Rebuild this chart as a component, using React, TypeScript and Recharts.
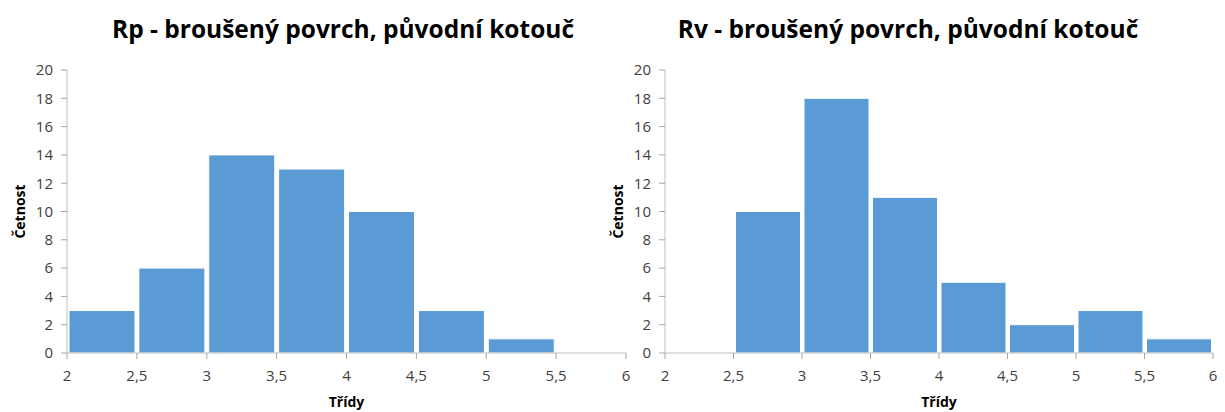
import React from 'react';
import { BarChart, Bar, XAxis, YAxis } from 'recharts';

const bins = ['2-2,5', '2,5-3', '3-3,5', '3,5-4', '4-4,5', '4,5-5', '5-5,5', '5,5-6'];
const rpCounts = [3, 6, 14, 13, 10, 3, 1, 0];
const rvCounts = [0, 10, 18, 11, 5, 2, 3, 1];
const xTicks = ['2', '2,5', '3', '3,5', '4', '4,5', '5', '5,5', '6'];
const yTicks = [0, 2, 4, 6, 8, 10, 12, 14, 16, 18, 20];

const FONT = 'Open Sans, Noto Sans, sans-serif';
const axisColor = '#bfbfbf';
const tickLineColor = '#a6a6a6';
const tickStyle = { fill: '#404040', fontSize: 15, fontFamily: FONT };
const axisTitleStyle = { fill: '#000', fontSize: 14, fontWeight: 700, fontFamily: FONT };

interface HistProps {
  title: string;
  titleCenter: number;
  counts: number[];
  left: number;
  width: number;
  yAxisWidth: number;
  rightMargin: number;
}

// labels sit on the bin edges, not under the bar centres
const EdgeTick = (props: any) => {
  const { x, y, index, bandWidth } = props;
  const edges = [{ px: x - bandWidth / 2, label: xTicks[index] }];
  if (index === bins.length - 1) edges.push({ px: x + bandWidth / 2, label: xTicks[index + 1] });
  return (
    <g>
      {edges.map((e) => (
        <g key={e.label}>
          <line x1={e.px} y1={y} x2={e.px} y2={y + 6} stroke={tickLineColor} />
          <text x={e.px} y={y + 17} dy="0.71em" textAnchor="middle" {...tickStyle}>
            {e.label}
          </text>
        </g>
      ))}
    </g>
  );
};

const Histogram: React.FC<HistProps> = ({ title, titleCenter, counts, left, width, yAxisWidth, rightMargin }) => {
  const data = bins.map((bin, i) => ({ bin, count: counts[i] }));
  const bandWidth = (width - rightMargin - yAxisWidth) / bins.length;

  return (
    <div style={{ position: 'absolute', left, top: 0, width, height: 412 }}>
      <div
        style={{
          position: 'absolute',
          left: titleCenter - 300,
          width: 600,
          top: 12,
          textAlign: 'center',
          fontFamily: FONT,
          fontWeight: 700,
          fontSize: 24.5,
          color: '#000',
          whiteSpace: 'nowrap',
        }}
      >
        {title}
      </div>
      <BarChart
        width={width}
        height={412}
        data={data}
        margin={{ top: 70, right: rightMargin, bottom: 0, left: 0 }}
        barCategoryGap={2}
      >
        <XAxis
          dataKey="bin"
          height={59}
          stroke={axisColor}
          tickSize={0}
          tickMargin={0}
          tickLine={false}
          interval={0}
          tick={<EdgeTick bandWidth={bandWidth} />}
          label={{ value: 'Třídy', position: 'insideBottom', offset: 5, style: axisTitleStyle }}
        />
        <YAxis
          domain={[0, 20]}
          ticks={yTicks}
          width={yAxisWidth}
          stroke={axisColor}
          tickSize={6}
          tickMargin={8}
          tick={tickStyle}
          tickLine={{ stroke: tickLineColor }}
          interval={0}
          label={{
            value: 'Četnost',
            angle: -90,
            position: 'insideLeft',
            offset: yAxisWidth - 47,
            style: { ...axisTitleStyle, textAnchor: 'middle' },
          }}
        />
        <Bar
          dataKey="count"
          fill="#5b9bd5"
          stroke="#ffffff"
          strokeWidth={1}
          isAnimationActive={false}
        />
      </BarChart>
    </div>
  );
};

const App: React.FC = () => (
  <div style={{ position: 'absolute', left: 0, top: 0, width: 1225, height: 412, background: '#fff' }}>
    <Histogram
      title="Rp - broušený povrch, původní kotouč"
      titleCenter={343}
      counts={rpCounts}
      left={0}
      width={640}
      yAxisWidth={67}
      rightMargin={14}
    />
    <Histogram
      title="Rv - broušený povrch, původní kotouč"
      titleCenter={318}
      counts={rvCounts}
      left={590}
      width={635}
      yAxisWidth={75}
      rightMargin={12}
    />
  </div>
);

export default App;
